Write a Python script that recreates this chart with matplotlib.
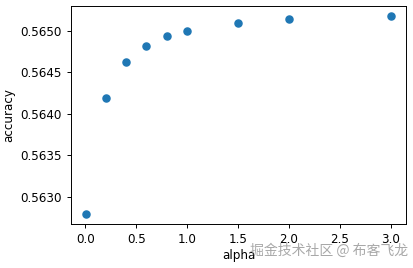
import matplotlib.pyplot as plt

plt.rcParams['font.size'] = 8.6

# данные: alpha и accuracy
alphas = [0.01, 0.2, 0.4, 0.6, 0.8, 1.0, 1.5, 2.0, 3.0]
accuracy = [0.56279, 0.56419, 0.564625, 0.564819, 0.56494, 0.56500, 0.565097, 0.565145, 0.565181]

fig = plt.figure(figsize=(4.14, 2.68), dpi=100)
ax = fig.add_axes([0.1715, 0.1642, 0.8092, 0.8134])
ax.scatter(alphas, accuracy, s=26, color='#1f77b4')
ax.set_xlabel('alpha', labelpad=2)
ax.set_ylabel('accuracy', labelpad=4)
for s in ax.spines.values():
    s.set_linewidth(0.7)
ax.tick_params(width=0.7, length=3)

# водяной знак
fig.text(0.985, 0.065, '掘金技术社区 @ 布客飞龙', ha='right', va='center',
         fontsize=10, color='#999999', alpha=0.85,
         family=['Noto Sans CJK SC', 'DejaVu Sans'])

fig.savefig('out.png', dpi=100)
